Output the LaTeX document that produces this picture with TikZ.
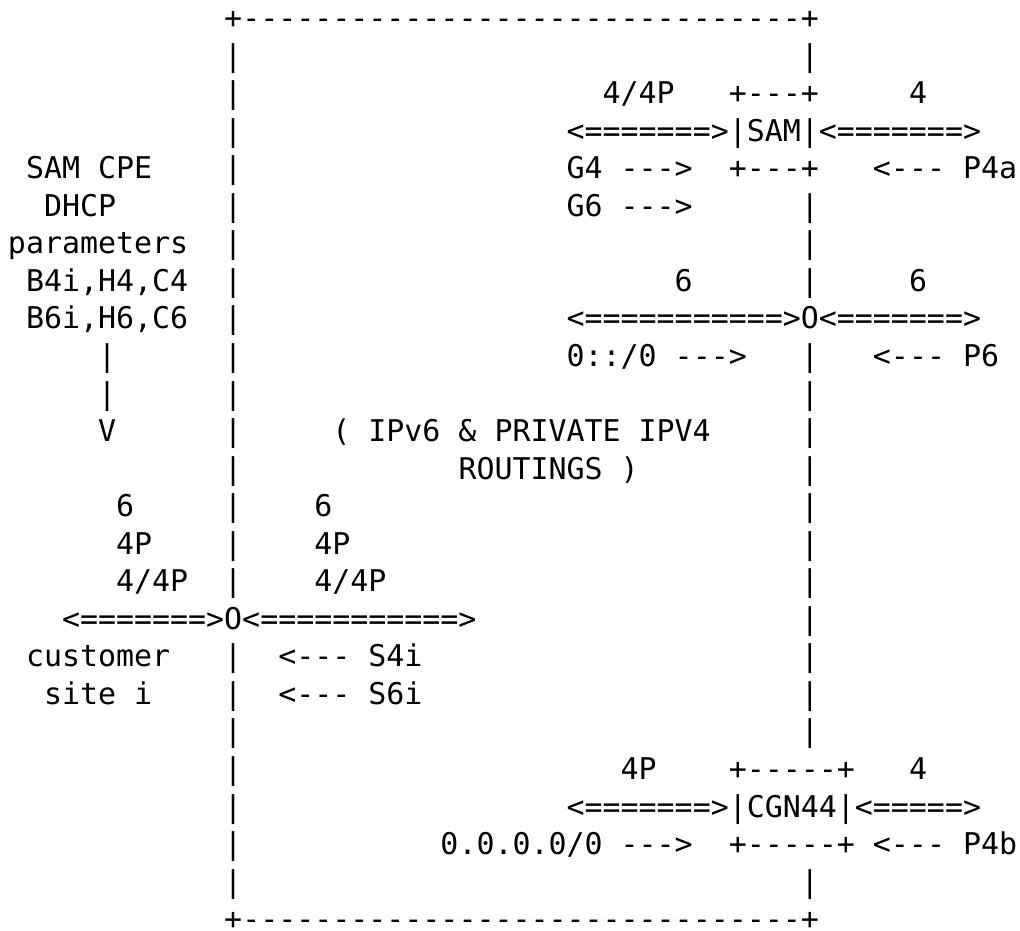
\documentclass[tikz,border=0pt]{standalone}
\usepackage{fontspec}
\newfontfamily\asciifont{DejaVu Sans Mono}
\newcommand\ascfont{\asciifont\fontsize{29.93pt}{37.6pt}\selectfont\frenchspacing}
\tikzset{txt/.style={anchor=base west,inner sep=0pt,outer sep=0pt,font=\ascfont,text=black}}
% place text #4 at column #2, row #3 of the character grid, named #1
\newcommand\asc[4]{\node[txt] (#1) at ({(8+#2*18.02)*1pt},{-(28.5+#3*37.55)*1pt}) {#4};}
\begin{document}
\begin{tikzpicture}
\useasboundingbox (0,0) rectangle (1020pt,-931pt);
% outer box: top and bottom borders
\asc{tl}{12}{0}{+}
\asc{tr}{44}{0}{+}
\asc{bl}{12}{24}{+}
\asc{br}{44}{24}{+}
\foreach \c in {13,...,43} {\asc{t\c}{\c}{0}{-}\asc{b\c}{\c}{24}{-}}
% outer box: left and right sides
\foreach \r in {1,...,15,17,18,...,23} {\asc{L\r}{12}{\r}{|}}
\foreach \r in {1,5,6,7,9,10,...,19,23} {\asc{R\r}{44}{\r}{|}}
% SAM
\asc{a1}{33}{2}{4/4P}
\asc{a2}{40}{2}{+-{}-{}-+}
\asc{a3}{50}{2}{4}
\asc{a4}{31}{3}{<=======>|SAM|<=======>}
\asc{a5}{1}{4}{SAM CPE}
\asc{a6}{31}{4}{G4 -{}-{}->}
\asc{a7}{40}{4}{+-{}-{}-+}
\asc{a8}{48}{4}{<-{}-{}- P4a}
\asc{a9}{2}{5}{DHCP}
\asc{a10}{31}{5}{G6 -{}-{}->}
\asc{a11}{0}{6}{parameters}
% IPv6 node
\asc{c1}{1}{7}{B4i,H4,C4}
\asc{c2}{37}{7}{6}
\asc{c3}{50}{7}{6}
\asc{c4}{1}{8}{B6i,H6,C6}
\asc{c5}{31}{8}{<===========>O<=======>}
\asc{c6}{5}{9}{|}
\asc{c7}{31}{9}{0::/0 -{}-{}->}
\asc{c8}{48}{9}{<-{}-{}- P6}
\asc{c9}{5}{10}{|}
\asc{c10}{5}{11}{V}
\asc{c11}{18}{11}{( IPv6 \& PRIVATE IPV4}
\asc{c12}{25}{12}{ROUTINGS )}
% customer site
\asc{d1}{6}{13}{6}
\asc{d2}{17}{13}{6}
\asc{d3}{6}{14}{4P}
\asc{d4}{17}{14}{4P}
\asc{d5}{6}{15}{4/4P}
\asc{d6}{17}{15}{4/4P}
\asc{d7}{3}{16}{<=======>O<===========>}
\asc{d8}{1}{17}{customer}
\asc{d9}{15}{17}{<-{}-{}- S4i}
\asc{d10}{2}{18}{site i}
\asc{d11}{15}{18}{<-{}-{}- S6i}
% CGN44
\asc{e1}{34}{20}{4P}
\asc{e2}{40}{20}{+-{}-{}-{}-{}-+}
\asc{e3}{50}{20}{4}
\asc{e4}{31}{21}{<=======>|CGN44|<=====>}
\asc{e5}{24}{22}{0.0.0.0/0 -{}-{}->}
\asc{e6}{40}{22}{+-{}-{}-{}-{}-+ <-{}-{}- P4b}
\end{tikzpicture}
\end{document}
